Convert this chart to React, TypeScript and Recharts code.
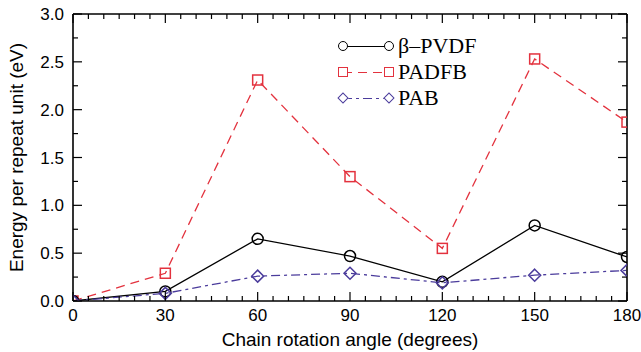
import React, { useEffect, useState } from 'react';
import { LineChart, Line, XAxis, YAxis } from 'recharts';

const angles = [0, 30, 60, 90, 120, 150, 180];
const pvdf = [0, 0.1, 0.65, 0.47, 0.2, 0.79, 0.46];
const padfb = [0, 0.29, 2.31, 1.3, 0.55, 2.53, 1.87];
const pab = [0, 0.08, 0.26, 0.29, 0.19, 0.27, 0.32];

const xTicks = [0, 5, 10, 15, 20, 25, 30, 35, 40, 45, 50, 55, 60, 65, 70, 75, 80, 85, 90, 95, 100, 105, 110, 115, 120, 125, 130, 135, 140, 145, 150, 155, 160, 165, 170, 175, 180];
const xMajor = [0, 30, 60, 90, 120, 150, 180];
const yTicks = [0, 0.25, 0.5, 0.75, 1, 1.25, 1.5, 1.75, 2, 2.25, 2.5, 2.75, 3];
const yMajor = [0, 0.5, 1, 1.5, 2, 2.5, 3];

const seriesNames = ['\u03b2\u2013PVDF', 'PADFB', 'PAB'];

const data = angles.map((a, i) => ({ angle: a, pvdf: pvdf[i], padfb: padfb[i], pab: pab[i] }));

const BLACK = '#000000';
const RED = '#e3323e';
const PURPLE = '#4b3c9c';
const SANS = 'Liberation Sans, Arial, sans-serif';
const SERIF = '"Liberation Serif", "Times New Roman", serif';

const isMajorX = (v: number) => xMajor.indexOf(v) >= 0;
const isMajorY = (v: number) => yMajor.indexOf(v) >= 0;

const bottomTick = (props: any) => {
  const { x, y, payload } = props;
  const len = isMajorX(payload.value) ? 9 : 5;
  return (
    <g>
      <path d={`M${x},${y}V${y - len}`} stroke="#000" strokeWidth={1.2} fill="none" />
      <text x={x} y={y + 20} textAnchor="middle" fontSize={17} fontFamily={SANS} fill="#000">
        {isMajorX(payload.value) ? payload.value : ''}
      </text>
    </g>
  );
};
const topTick = (props: any) => {
  const { x, y, payload } = props;
  const len = isMajorX(payload.value) ? 9 : 5;
  return <path d={`M${x},${y}V${y + len}`} stroke="#000" strokeWidth={1.2} fill="none" />;
};
const leftTick = (props: any) => {
  const { x, y, payload } = props;
  const len = isMajorY(payload.value) ? 9 : 5;
  return (
    <g>
      <path d={`M${x},${y}H${x + len}`} stroke="#000" strokeWidth={1.2} fill="none" />
      <text x={x - 9} y={y + 6} textAnchor="end" fontSize={17} fontFamily={SANS} fill="#000">
        {isMajorY(payload.value) ? Number(payload.value).toFixed(1) : ''}
      </text>
    </g>
  );
};
const rightTick = (props: any) => {
  const { x, y, payload } = props;
  const len = isMajorY(payload.value) ? 9 : 5;
  return <path d={`M${x},${y}H${x - len}`} stroke="#000" strokeWidth={1.2} fill="none" />;
};

const CircleDot = (props: any) => {
  const { cx, cy } = props;
  if (cx == null || cy == null) return null;
  return <circle cx={cx} cy={cy} r={5.5} fill="none" stroke={BLACK} strokeWidth={1.5} />;
};
const SquareDot = (props: any) => {
  const { cx, cy } = props;
  if (cx == null || cy == null) return null;
  return <rect x={cx - 5} y={cy - 5} width={10} height={10} fill="none" stroke={RED} strokeWidth={1.5} />;
};
const DiamondDot = (props: any) => {
  const { cx, cy } = props;
  if (cx == null || cy == null) return null;
  return <polygon points={`${cx},${cy - 6} ${cx + 6},${cy} ${cx},${cy + 6} ${cx - 6},${cy}`} fill="none" stroke={PURPLE} strokeWidth={1.5} />;
};

const legendItems = [
  { name: seriesNames[0], color: BLACK, marker: 'circle', bg: BLACK },
  { name: seriesNames[1], color: RED, marker: 'square', bg: `repeating-linear-gradient(to right, ${RED} 0px, ${RED} 9px, transparent 9px, transparent 15px)` },
  { name: seriesNames[2], color: PURPLE, marker: 'diamond', bg: `repeating-linear-gradient(to right, ${PURPLE} 0px, ${PURPLE} 9px, transparent 9px, transparent 13px, ${PURPLE} 13px, ${PURPLE} 16px, transparent 16px, transparent 20px)` },
];

const markerStyle = (type: string, color: string, left: number): React.CSSProperties => {
  const base: React.CSSProperties = { position: 'absolute', boxSizing: 'border-box', border: `1.5px solid ${color}`, background: '#fff' };
  if (type === 'circle') return { ...base, left: left - 5, top: 8, width: 10, height: 10, borderRadius: '50%' };
  if (type === 'square') return { ...base, left: left - 5, top: 8, width: 10, height: 10 };
  return { ...base, left: left - 4, top: 9, width: 8, height: 8, transform: 'rotate(45deg)' };
};

export default function App() {
  const [tick, setTick] = useState(0);
  useEffect(() => {
    const t1 = setTimeout(() => setTick(1), 60);
    const t2 = setTimeout(() => setTick(2), 300);
    return () => {
      clearTimeout(t1);
      clearTimeout(t2);
    };
  }, []);
  return (
    <div style={{ position: 'absolute', left: 0, top: 0, width: 641, height: 352, background: '#fff' }} data-r={tick}>
      <div style={{ position: 'relative', width: 641, height: 352 }}>
        <LineChart width={641} height={352} data={data} margin={{ top: 13, right: 13, bottom: 0, left: 0 }}>
          <XAxis
            dataKey="angle" type="number" domain={[0, 180]} ticks={xTicks} interval={0} height={51}
            tickSize={0} tickMargin={0} tickLine={false} tick={bottomTick}
            axisLine={{ stroke: '#000', strokeWidth: 1.6 }} allowDataOverflow
            label={{ value: 'Chain rotation angle (degrees)', position: 'insideBottom', offset: 6, fontSize: 19, fontFamily: SANS, fill: '#000' }}
          />
          <XAxis
            xAxisId="top" orientation="top" dataKey="angle" type="number" domain={[0, 180]} ticks={xTicks} interval={0} height={1}
            tickSize={0} tickMargin={0} tickLine={false} tick={topTick}
            axisLine={{ stroke: '#000', strokeWidth: 1.6 }} allowDataOverflow
          />
          <YAxis
            type="number" domain={[0, 3]} ticks={yTicks} interval={0} width={73}
            tickSize={0} tickMargin={0} tickLine={false} tick={leftTick}
            axisLine={{ stroke: '#000', strokeWidth: 1.6 }} allowDataOverflow
            label={{ value: 'Energy per repeat unit (eV)', angle: -90, position: 'insideLeft', offset: 16, fontSize: 19, fontFamily: SANS, fill: '#000', style: { textAnchor: 'middle' } }}
          />
          <YAxis
            yAxisId="right" orientation="right" type="number" domain={[0, 3]} ticks={yTicks} interval={0} width={1}
            tickSize={0} tickMargin={0} tickLine={false} tick={rightTick}
            axisLine={{ stroke: '#000', strokeWidth: 1.6 }} allowDataOverflow
          />
          <Line dataKey="padfb" stroke={RED} strokeWidth={1.3} strokeDasharray="9 6" dot={<SquareDot />} activeDot={false} isAnimationActive={false} />
          <Line dataKey="pvdf" stroke={BLACK} strokeWidth={1.3} dot={<CircleDot />} activeDot={false} isAnimationActive={false} />
          <Line dataKey="pab" stroke={PURPLE} strokeWidth={1.3} strokeDasharray="9 4 3 4" dot={<DiamondDot />} activeDot={false} isAnimationActive={false} />
        </LineChart>
        <div style={{ position: 'absolute', left: 334, top: 33 }}>
          {legendItems.map((it) => (
            <div key={it.name} style={{ display: 'flex', alignItems: 'center', height: 26 }}>
              <div style={{ position: 'relative', width: 64, height: 26 }}>
                <div style={{ position: 'absolute', left: 9, top: 12.5, width: 46, height: 1.3, background: it.bg }} />
                <div style={markerStyle(it.marker, it.color, 9)} />
                <div style={markerStyle(it.marker, it.color, 55)} />
              </div>
              <span style={{ fontFamily: SERIF, fontSize: 22, color: '#000', lineHeight: '26px' }}>{it.name}</span>
            </div>
          ))}
        </div>
      </div>
    </div>
  );
}
